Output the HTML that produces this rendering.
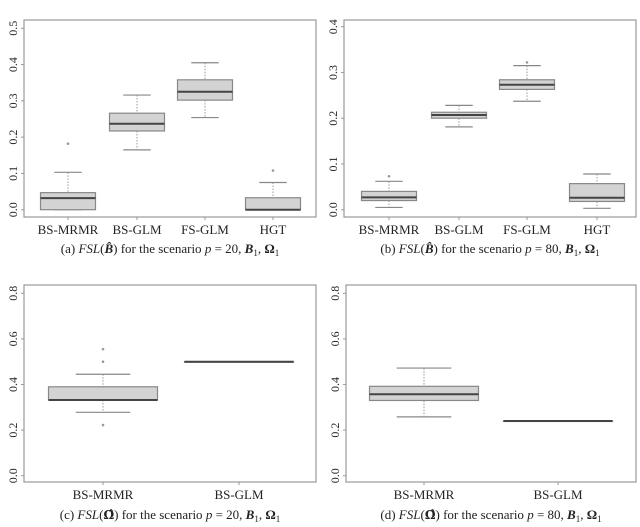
<!DOCTYPE html>
<html><head><meta charset="utf-8"><style>
html,body{margin:0;padding:0;background:#fff;width:640px;height:527px;overflow:hidden}
svg{display:block}
text{font-family:"Liberation Serif",serif;fill:#222}
</style></head><body>
<svg id="chart" width="640" height="527" viewBox="0 0 640 527"></svg>
<script>
// Panel (a)
const catsA=["BS-MRMR","BS-GLM","FS-GLM","HGT"];
const lowA=[0,0.165,0.254,0];
const q1A=[0,0.217,0.302,0];
const medA=[0.032,0.237,0.325,0];
const q3A=[0.047,0.266,0.358,0.033];
const highA=[0.103,0.316,0.405,0.075];
const outA=[[0.182],[],[],[0.108]];
const ticksA=["0.0","0.1","0.2","0.3","0.4","0.5"];
// Panel (b)
const catsB=["BS-MRMR","BS-GLM","FS-GLM","HGT"];
const lowB=[0.005,0.181,0.237,0.003];
const q1B=[0.02,0.2,0.263,0.018];
const medB=[0.027,0.207,0.273,0.026];
const q3B=[0.04,0.213,0.284,0.057];
const highB=[0.062,0.228,0.315,0.078];
const outB=[[0.073],[],[0.322],[]];
const ticksB=["0.0","0.1","0.2","0.3","0.4"];
// Panel (c)
const catsC=["BS-MRMR","BS-GLM"];
const lowC=[0.278,0.5];
const q1C=[0.332,0.5];
const medC=[0.332,0.5];
const q3C=[0.39,0.5];
const highC=[0.445,0.5];
const outC=[[0.5,0.555,0.222],[]];
const ticksC=["0.0","0.2","0.4","0.6","0.8"];
// Panel (d)
const catsD=["BS-MRMR","BS-GLM"];
const lowD=[0.258,0.24];
const q1D=[0.33,0.24];
const medD=[0.357,0.24];
const q3D=[0.392,0.24];
const highD=[0.472,0.24];
const outD=[[],[]];
const ticksD=["0.0","0.2","0.4","0.6","0.8"];

const svg=document.getElementById('chart');
const NS='http://www.w3.org/2000/svg';
function mk(tag,at,parent){const e=document.createElementNS(NS,tag);for(const k in at)e.setAttribute(k,at[k]);(parent||svg).appendChild(e);return e;}

function panel(o){
  const g=mk('g',{});
  
  
  const y=v=>o.y0+(v-o.vmin)/(o.vmax-o.vmin)*(o.y1-o.y0);
  const fr=mk('rect',{x:o.L,y:o.T,width:o.R-o.L,height:o.B-o.T,fill:'none',stroke:'#999','stroke-width':1.2},g);
  
  
  o.ticks.forEach(t=>{
    const v=parseFloat(t),yy=y(v);
    const tk=mk('line',{x1:o.L-3,x2:o.L,y1:yy,y2:yy,stroke:'#999'},g);
    
    
    const tx=mk('text',{x:0,y:0,transform:`translate(${o.L-7},${yy}) rotate(-90)`,'text-anchor':'middle','font-size':12,fill:'#444'},g);
    tx.textContent=t;
    
    
  });
  o.cats.forEach((c,i)=>{
    const cx=o.cx[i],hw=o.bw/2;
    const tk=mk('line',{x1:cx,x2:cx,y1:o.B,y2:o.B+3,stroke:'#999'},g);
    
    
    const lb=mk('text',{x:cx,y:o.B+17,'text-anchor':'middle','font-size':13},g);
    lb.textContent=c;
    
    
    const bg=mk('g',{},g);
    
    
    const lo=o.low[i],q1=o.q1[i],md=o.med[i],q3=o.q3[i],hi=o.high[i];
    mk('line',{x1:cx,x2:cx,y1:y(hi),y2:y(q3),stroke:'#999','stroke-dasharray':'1.5,1.5'},bg);
    mk('line',{x1:cx,x2:cx,y1:y(q1),y2:y(lo),stroke:'#999','stroke-dasharray':'1.5,1.5'},bg);
    mk('line',{x1:cx-hw/2,x2:cx+hw/2,y1:y(hi),y2:y(hi),stroke:'#888','stroke-width':1.2},bg);
    mk('line',{x1:cx-hw/2,x2:cx+hw/2,y1:y(lo),y2:y(lo),stroke:'#888','stroke-width':1.2},bg);
    mk('rect',{x:cx-hw,y:y(q3),width:o.bw,height:Math.max(0.5,y(q1)-y(q3)),fill:'#d3d3d3',stroke:'#888','stroke-width':1.2},bg);
    mk('line',{x1:cx-hw,x2:cx+hw,y1:y(md),y2:y(md),stroke:'#444','stroke-width':2},bg);
    o.out[i].forEach(v=>{
      const p=mk('circle',{cx:cx,cy:y(v),r:1.3,fill:'#999'},bg);
      
      
    });
  });
  const cap=mk('text',{x:(o.L+o.R)/2,y:o.capY,'text-anchor':'middle','font-size':13},g);
  cap.innerHTML=o.cap;
  
  
}
const capTxt=(l,sym,p)=>`(${l}) <tspan font-style="italic">FSL</tspan>(${sym}) for the scenario <tspan font-style="italic">p</tspan> = ${p}, <tspan font-weight="bold" font-style="italic">B</tspan><tspan font-size="9" dy="3">1</tspan><tspan dy="-3">, </tspan><tspan font-weight="bold">Ω</tspan><tspan font-size="9" dy="3">1</tspan>`;
const symB='<tspan font-weight="bold" font-style="italic">B̂</tspan>';
const symO='<tspan font-weight="bold" font-family="DejaVu Serif" font-size="12">Ω̂</tspan>';

panel({name:'panel-a',L:24,R:316,T:20,B:217,y0:209.7,y1:28.3,vmin:0,vmax:0.5,ticks:ticksA,cats:catsA,cx:[68,137,205,273],bw:55,
  low:lowA,q1:q1A,med:medA,q3:q3A,high:highA,out:outA,capY:253,cap:capTxt('a',symB,'20')});
panel({name:'panel-b',L:344,R:636,T:20,B:217,y0:209.7,y1:26.7,vmin:0,vmax:0.4,ticks:ticksB,cats:catsB,cx:[389,459,527,597],bw:55,
  low:lowB,q1:q1B,med:medB,q3:q3B,high:highB,out:outB,capY:253,cap:capTxt('b',symB,'80')});
panel({name:'panel-c',L:24,R:316,T:285,B:482,y0:475.7,y1:293.3,vmin:0,vmax:0.8,ticks:ticksC,cats:catsC,cx:[103,239],bw:109,
  low:lowC,q1:q1C,med:medC,q3:q3C,high:highC,out:outC,capY:519,cap:capTxt('c',symO,'20')});
panel({name:'panel-d',L:346,R:636,T:285,B:482,y0:475.7,y1:293.3,vmin:0,vmax:0.8,ticks:ticksD,cats:catsD,cx:[424,558],bw:109,
  low:lowD,q1:q1D,med:medD,q3:q3D,high:highD,out:outD,capY:519,cap:capTxt('d',symO,'80')});
</script>
</body></html>
